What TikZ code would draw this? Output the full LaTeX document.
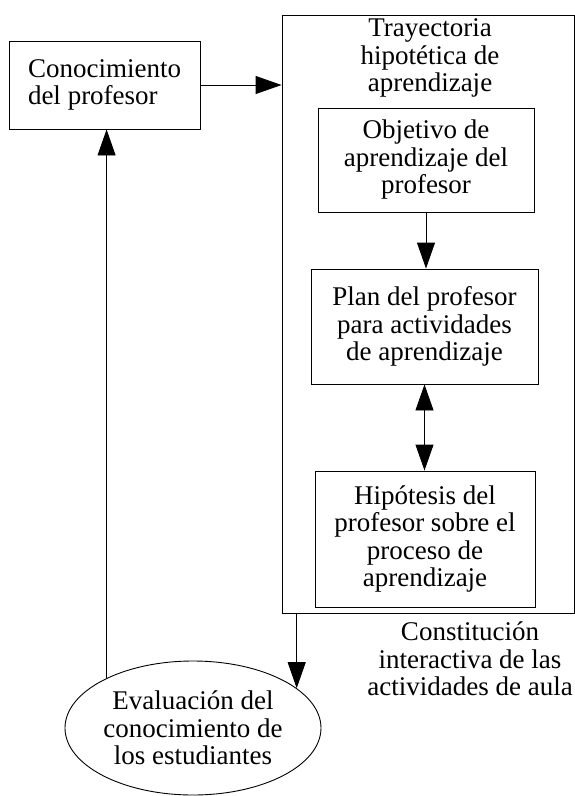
\documentclass[tikz,border=0pt]{standalone}
\usepackage{fontspec}
\setmainfont{Liberation Serif}
\usetikzlibrary{arrows.meta,shapes.geometric}

\begin{document}
\begin{tikzpicture}[x=1pt,y=-1pt,
  txt/.style={font=\fontsize{27}{27.5}\selectfont, align=center, inner sep=0pt},
  caja/.style={txt, draw, line width=0.9pt},
  arr/.style={line width=0.9pt, -{Triangle[length=26pt,width=18pt]}},
  arrboth/.style={line width=0.9pt, {Triangle[length=26pt,width=18pt]}-{Triangle[length=26pt,width=18pt]}}]
  \useasboundingbox (0,0) rectangle (575,796);

  \node[caja, align=left, minimum width=191pt, minimum height=88pt] (CP) at (104.5,85) {Conocimiento\\del profesor};
  \node[caja, minimum width=292pt, minimum height=598pt] (TH) at (428,314) {};
  \node[txt] (THt) at (430,58) {Trayectoria\\hipotética de\\aprendizaje};
  \node[caja, minimum width=216pt, minimum height=104pt] (OB) at (426,160) {Objetivo de\\aprendizaje del\\profesor};
  \node[caja, minimum width=227pt, minimum height=115pt] (PL) at (424.5,326.5) {Plan del profesor\\para actividades\\de aprendizaje};
  \node[caja, minimum width=220pt, minimum height=136pt] (HP) at (425,539) {Hipótesis del\\profesor sobre el\\proceso de\\aprendizaje};
  \node[txt] (CI) at (470,659) {Constitución\\interactiva de las\\actividades de aula};
  \node[caja, ellipse, minimum width=256pt, minimum height=134pt] (EV) at (193,728) {Evaluación del\\conocimiento de\\los estudiantes};

  \path[arr] (CP.east) edge (CP.east -| TH.west);
  \path[arr] (OB.south) edge (OB.south |- PL.north);
  \path[arrboth] (PL.south) edge (PL.south |- HP.north);
  \path[arr] (EV.21 |- TH.south) edge (EV.21);
  \path[arr] (EV.150) edge (EV.150 |- CP.south);
\end{tikzpicture}
\end{document}
